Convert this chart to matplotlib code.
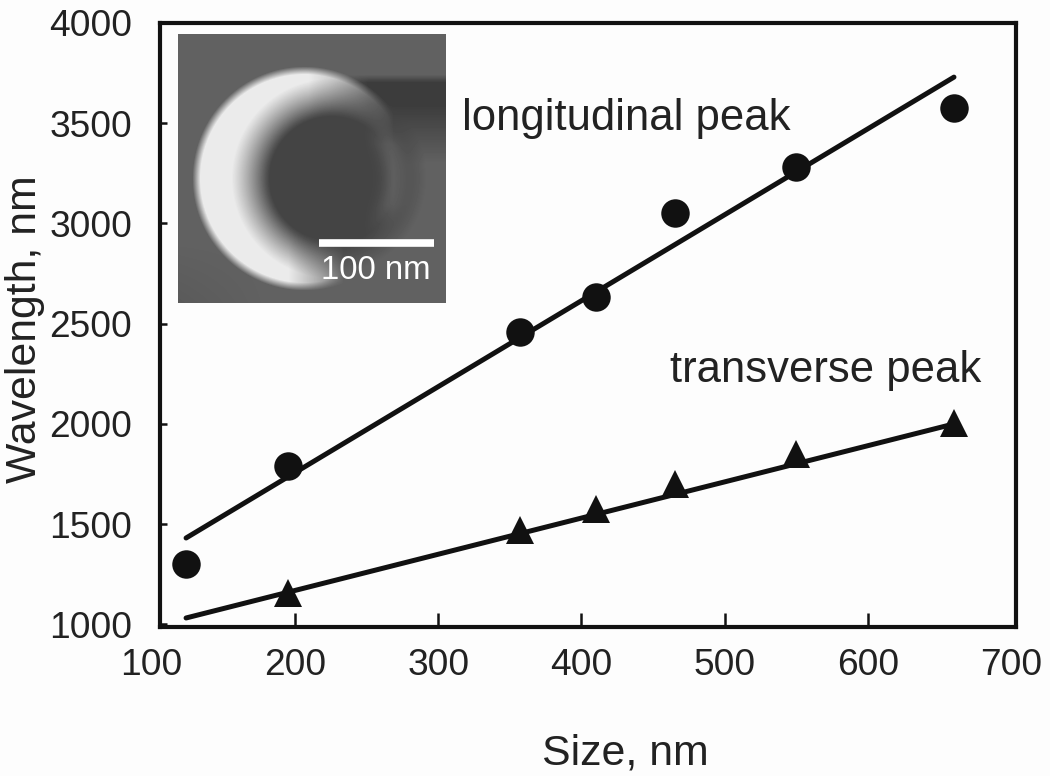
import numpy as np
import matplotlib
matplotlib.use("Agg")
import matplotlib.pyplot as plt
from matplotlib.transforms import blended_transform_factory

plt.rcParams["font.family"] = "Liberation Sans"
plt.rcParams["font.size"] = 26.7

W, H = 1050, 776

size_long = [124, 195, 357, 410, 465, 550, 660]
wave_long = [1301, 1790, 2458, 2632, 3050, 3281, 3575]
size_trans = [195, 357, 410, 465, 550, 660]
wave_trans = [1157, 1471, 1576, 1700, 1850, 2004]
fit_x = [124, 660]
fit_long = [1431, 3730]
fit_trans = [1032, 2000]

xticks = [200, 300, 400, 500, 600]
xedge_labels = [100, 700]
yticks = [1000, 1500, 2000, 2500, 3000, 3500, 4000]

ink = "#111111"
txt = "#222222"
paper = "#fdfdfd"


def px_axes(fig, left, top, right, bottom):
    return fig.add_axes([left / W, 1 - bottom / H, (right - left) / W, (bottom - top) / H])


def ramp(v, a, b):
    return np.clip((v - a) / (b - a), 0, 1)


fig = plt.figure(figsize=(W / 100, H / 100), dpi=100, facecolor=paper)
ax = px_axes(fig, 160, 23, 1016, 627)
ax.set_facecolor(paper)
ax.set_xlim(105.8, 703.3)
ax.set_ylim(987, 4000)

ax.plot(fit_x, fit_long, color=ink, lw=3.6, solid_capstyle="round")
ax.plot(fit_x, fit_trans, color=ink, lw=3.6, solid_capstyle="round")
ax.plot(size_long, wave_long, "o", color=ink, ms=20.5, mew=0, clip_on=False)
ax.plot(size_trans, wave_trans, "^", color=ink, ms=19.5, mew=0, clip_on=False)

ax.set_xticks(xticks)
ax.set_yticks(yticks)
ax.tick_params(axis="x", direction="in", length=10, width=1.8, pad=15, color=ink, labelcolor=txt)
ax.tick_params(axis="y", direction="in", length=5, width=1.8, pad=20, color=ink, labelcolor=txt)
for s in ax.spines.values():
    s.set_linewidth(3)
    s.set_color(ink)

# 100 and 700 have labels but no tick marks, they sit outside the frame limits
edge = blended_transform_factory(ax.transData, ax.transAxes)
for v in xedge_labels:
    ax.annotate(str(v), (v, 0), xycoords=edge, xytext=(0, -15), textcoords="offset points",
                ha="center", va="top", color=txt, annotation_clip=False)

fig.text(625 / W, 1 - 765 / H, "Size, nm", ha="center", va="baseline", color=txt, fontsize=30.8)
fig.text(25 / W, 1 - 329 / H, "Wavelength, nm", rotation=90, ha="center", va="center", color=txt, fontsize=30.8)
fig.text(462 / W, 1 - 130 / H, "longitudinal peak", ha="left", va="baseline", color=txt, fontsize=31.4)
fig.text(670 / W, 1 - 382 / H, "transverse peak", ha="left", va="baseline", color=txt, fontsize=31.4)

# SEM inset, crescent sketched on a pixel grid (inset pixel coordinates)
ins = px_axes(fig, 178, 34, 446, 303)
yy, xx = np.mgrid[0:269, 0:268].astype(float)
outer = np.hypot(xx - 126, yy - 144) - 109
d = np.hypot(xx - 153, yy - 144)

img = 98 - 8 * ramp(xx, 100, 0) * ramp(yy, 200, 269)
img = img - 38 * ramp(yy, 40, 48) * ramp(xx, 150, 190) * (1 - ramp(yy, 70, 130))
disc = 1 - ramp(d, 66, 96)
img = img * (1 - disc) + 68 * disc
img = img + 26 * np.exp(-(((d - 62) / 13) ** 2)) * ramp(xx, 185, 215) * ramp(yy, 85, 110) * (1 - ramp(yy, 170, 210))

bright = (1 - ramp(outer, -5, 3)) * ramp(d, 62, 100)
tail = 1 - ramp(xx, 130, 215) * (yy < 144) - ramp(xx, 110, 165) * (yy >= 144)
tail = np.clip(tail, 0, 1) ** 0.8
img = img + (235 - img) * bright * tail

ins.imshow(img, cmap="gray", vmin=0, vmax=255, aspect="auto", interpolation="bilinear")
ins.set_xticks([])
ins.set_yticks([])
for s in ins.spines.values():
    s.set_visible(False)
ins.plot([140, 255], [209, 209], color="white", lw=5.5, solid_capstyle="butt")
ins.text(197, 236, "100 nm", color="white", ha="center", va="center", fontsize=23.7)

fig.savefig("out.png", dpi=100, facecolor=fig.get_facecolor())
